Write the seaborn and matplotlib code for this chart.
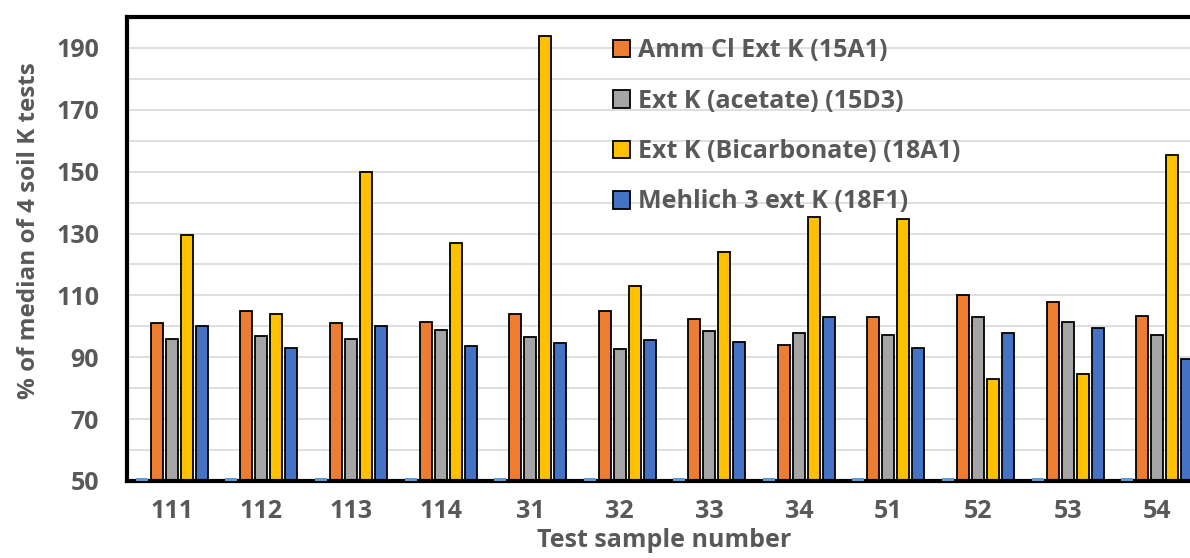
import pandas as pd
import numpy as np
import matplotlib
matplotlib.use("Agg")
import matplotlib.pyplot as plt
import seaborn as sns

samples = ['111', '112', '113', '114', '31', '32', '33', '34', '51', '52', '53', '54']

amm_cl = [101, 105, 101, 101.5, 104, 105, 102.5, 94, 103, 110, 108, 103.5]
acetate = [96, 96.8, 96, 98.8, 96.7, 92.8, 98.4, 97.8, 97.2, 103, 101.5, 97.2]
bicarb = [129.5, 104, 150, 126.8, 194, 113, 124, 135.2, 134.6, 83, 84.5, 155.3]
mehlich = [100, 93, 100, 93.5, 94.5, 95.7, 95, 103, 93, 97.7, 99.4, 89.3]
# tiny unlabeled series that Excel leaves sitting on the baseline
baseline = [51] * 12

series_names = ['(blank)', 'Amm Cl Ext K (15A1)', 'Ext K (acetate) (15D3)',
                'Ext K (Bicarbonate) (18A1)', 'Mehlich 3 ext K (18F1)']
colors = ['#5B9BD5', '#ED7D31', '#A5A5A5', '#FFC000', '#4472C4']

TXT = '#595959'

rows = []
for name, vals in zip(series_names, [baseline, amm_cl, acetate, bicarb, mehlich]):
    for s, v in zip(samples, vals):
        rows.append({'sample': s, 'series': name, 'value': v})
df = pd.DataFrame(rows)

sns.set_style('white')
plt.rcParams['font.family'] = ['Open Sans', 'DejaVu Sans']
plt.rcParams['font.weight'] = 'bold'

fig = plt.figure(figsize=(11.9, 5.58), dpi=100)
ax = fig.add_axes([127 / 1190, 77 / 558, 1075 / 1190, 464 / 558])

sns.barplot(data=df, x='sample', y='value', hue='series', order=samples,
            hue_order=series_names, palette=colors, saturation=1,
            width=0.837, gap=0.2, edgecolor='black', linewidth=1.3,
            legend=False, ax=ax, zorder=2)

for p in ax.containers[0].patches:
    p.set_edgecolor('none')
    p.set_zorder(3)

ax.set_ylim(50, 200)
ax.set_yticks(np.arange(50, 191, 20))
ax.set_yticks(np.arange(60, 201, 20), minor=True)
ax.grid(axis='y', which='both', color='#d9d9d9', linewidth=1.2, zorder=0)
ax.set_axisbelow(True)

for side in ['left', 'top', 'bottom', 'right']:
    ax.spines[side].set_linewidth(3)
    ax.spines[side].set_color('black')

ax.tick_params(axis='y', which='both', length=0, pad=20, labelsize=18, labelcolor=TXT)
ax.tick_params(axis='x', length=0, pad=13, labelsize=18, labelcolor=TXT)
for t in ax.get_xticklabels() + ax.get_yticklabels():
    t.set_fontweight('bold')

ax.set_xlabel('Test sample number', fontsize=18, fontweight='bold', color=TXT, labelpad=3)
ax.set_ylabel('% of median of 4 soil K tests', fontsize=17.5, fontweight='bold', color=TXT)
ax.yaxis.set_label_coords(-0.08, 0.54)

leg = ax.legend(handles=ax.containers[1:], labels=series_names[1:],
                loc='upper left', bbox_to_anchor=(613 / 1190, 1 - 38 / 558),
                bbox_transform=fig.transFigure, frameon=False, fontsize=18,
                handlelength=0.7, handleheight=0.7, handletextpad=0.3,
                labelspacing=1.02, borderpad=0, borderaxespad=0)
for t in leg.get_texts():
    t.set_color(TXT)
    t.set_fontweight('bold')

fig.savefig('out.png', dpi=100)
